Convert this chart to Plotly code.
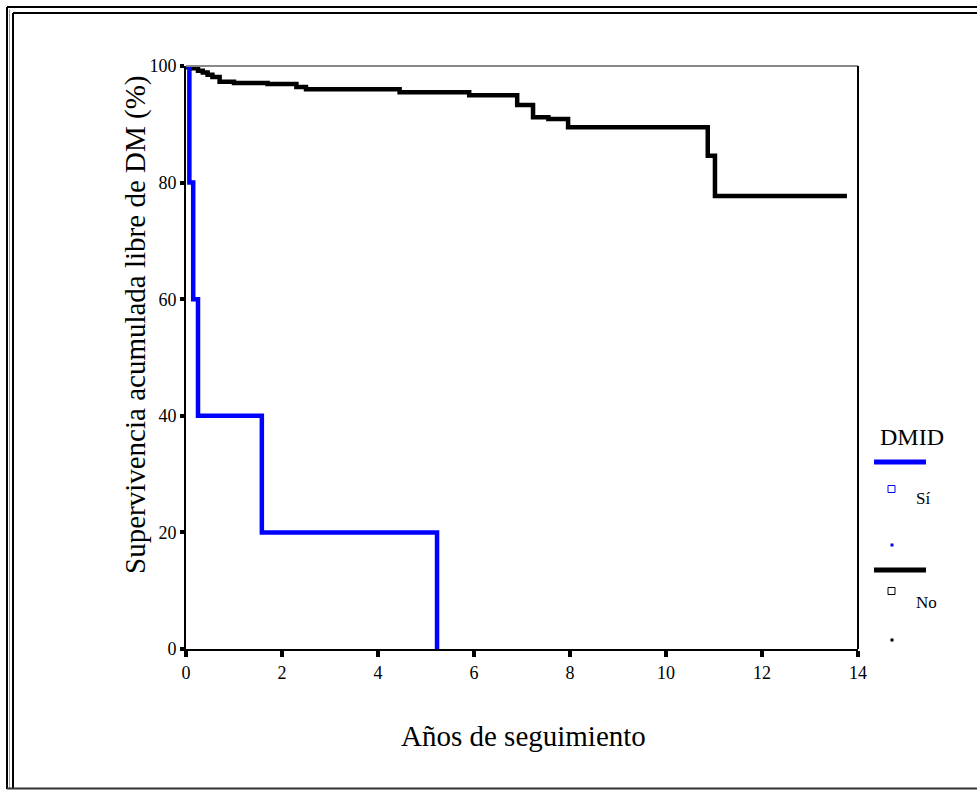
import plotly.graph_objects as go

# ---- data ----
si_years = [0, 0.07, 0.15, 0.25, 1.58, 5.23]
si_surv = [100, 80, 60, 40, 20, 0]

no_years = [0, 0.05, 0.15, 0.25, 0.35, 0.45, 0.55, 0.7, 1.0, 1.7, 2.3, 2.5,
            4.45, 5.9, 6.9, 7.23, 7.55, 7.96, 10.87, 11.02, 13.77]
no_surv = [100, 99.8, 99.6, 99.2, 98.9, 98.5, 98.1, 97.3, 97.1, 96.9, 96.4, 96.0,
           95.5, 95.0, 93.3, 91.2, 90.9, 89.5, 84.6, 77.7, 77.7]

x_ticks = [0, 2, 4, 6, 8, 10, 12, 14]
y_ticks = [0, 20, 40, 60, 80, 100]

W, H = 977, 790
L, R, T, B = 186, 858, 66, 649
FONT = "Liberation Serif"


def px(x):
    return (x - L) / (R - L)


def py(y):
    return (B - y) / (B - T)


fig = go.Figure()
fig.add_trace(go.Scatter(x=no_years, y=no_surv, mode="lines", line_shape="hv",
                         line=dict(color="#000000", width=4.5), name="No", showlegend=False))
fig.add_trace(go.Scatter(x=si_years, y=si_surv, mode="lines", line_shape="hv",
                         line=dict(color="#0000FF", width=4.5), name="Sí", showlegend=False))

shapes = []
# plot frame: gray top, black right
shapes.append(dict(type="line", xref="paper", yref="paper", x0=0, x1=1, y0=1, y1=1,
                   line=dict(color="#888888", width=2)))
shapes.append(dict(type="line", xref="paper", yref="paper", x0=1, x1=1, y0=0, y1=1,
                   line=dict(color="#000000", width=2)))
# outer double frame
for off in (7, 13):
    shapes.append(dict(type="line", xref="paper", yref="paper", x0=px(off), x1=px(off),
                       y0=py(off), y1=py(789), line=dict(color="#000000", width=2)))
    shapes.append(dict(type="line", xref="paper", yref="paper", x0=px(off), x1=px(980),
                       y0=py(off), y1=py(off), line=dict(color="#000000", width=2)))
shapes.append(dict(type="line", xref="paper", yref="paper", x0=px(9.5), x1=px(9.5),
                   y0=py(9.5), y1=py(789), line=dict(color="#999999", width=1)))
shapes.append(dict(type="line", xref="paper", yref="paper", x0=px(7), x1=px(980),
                   y0=py(788.5), y1=py(788.5), line=dict(color="#333333", width=2)))
# legend lines
shapes.append(dict(type="line", xref="paper", yref="paper", x0=px(874), x1=px(926),
                   y0=py(462), y1=py(462), line=dict(color="#0000FF", width=5)))
shapes.append(dict(type="line", xref="paper", yref="paper", x0=px(874), x1=px(926),
                   y0=py(570), y1=py(570), line=dict(color="#000000", width=5)))
# legend open squares
for yy, col in ((489, "#0000FF"), (591, "#000000")):
    shapes.append(dict(type="rect", xref="paper", yref="paper", x0=px(888), x1=px(895),
                       y0=py(yy - 3.5), y1=py(yy + 3.5), line=dict(color=col, width=1)))
# legend dots
for yy, col in ((545, "#0000FF"), (640, "#000000")):
    shapes.append(dict(type="rect", xref="paper", yref="paper", x0=px(890.5), x1=px(893.5),
                       y0=py(yy - 1.5), y1=py(yy + 1.5), line=dict(width=0), fillcolor=col))

annotations = [
    dict(text="Supervivencia acumulada libre de DM (%)", xref="paper", yref="paper",
         x=px(135), y=py(325), textangle=-90, showarrow=False,
         font=dict(family=FONT, size=29, color="#000000"), xanchor="center", yanchor="middle"),
    dict(text="Años de seguimiento", xref="paper", yref="paper",
         x=px(523), y=py(736), showarrow=False,
         font=dict(family=FONT, size=29, color="#000000"), xanchor="center", yanchor="middle"),
    dict(text="DMID", xref="paper", yref="paper", x=px(878), y=py(437), showarrow=False,
         font=dict(family=FONT, size=24, color="#000000"), xanchor="left", yanchor="middle"),
    dict(text="Sí", xref="paper", yref="paper", x=px(914), y=py(498), showarrow=False,
         font=dict(family=FONT, size=17, color="#000000"), xanchor="left", yanchor="middle"),
    dict(text="No", xref="paper", yref="paper", x=px(914), y=py(602), showarrow=False,
         font=dict(family=FONT, size=17, color="#000000"), xanchor="left", yanchor="middle"),
]

fig.update_layout(
    width=W, height=H,
    margin=dict(l=L, r=W - R, t=T, b=H - B, pad=0),
    paper_bgcolor="white", plot_bgcolor="white",
    font=dict(family=FONT, color="#000000"),
    shapes=shapes, annotations=annotations, showlegend=False,
)
fig.update_xaxes(range=[0, 14], tickvals=x_ticks, ticktext=[str(v) for v in x_ticks],
                 showgrid=False, zeroline=False, showline=True, linecolor="#000000", linewidth=2,
                 ticks="outside", ticklen=6, tickwidth=4, tickcolor="#000000",
                 tickfont=dict(family=FONT, size=18, color="#000000"))
fig.update_yaxes(range=[0, 100], tickvals=y_ticks, ticktext=[str(v) for v in y_ticks],
                 showgrid=False, zeroline=False, showline=True, linecolor="#000000", linewidth=2,
                 ticks="outside", ticklen=4, tickwidth=4, tickcolor="#000000",
                 tickfont=dict(family=FONT, size=18, color="#000000"))

fig.write_html("out.html")
